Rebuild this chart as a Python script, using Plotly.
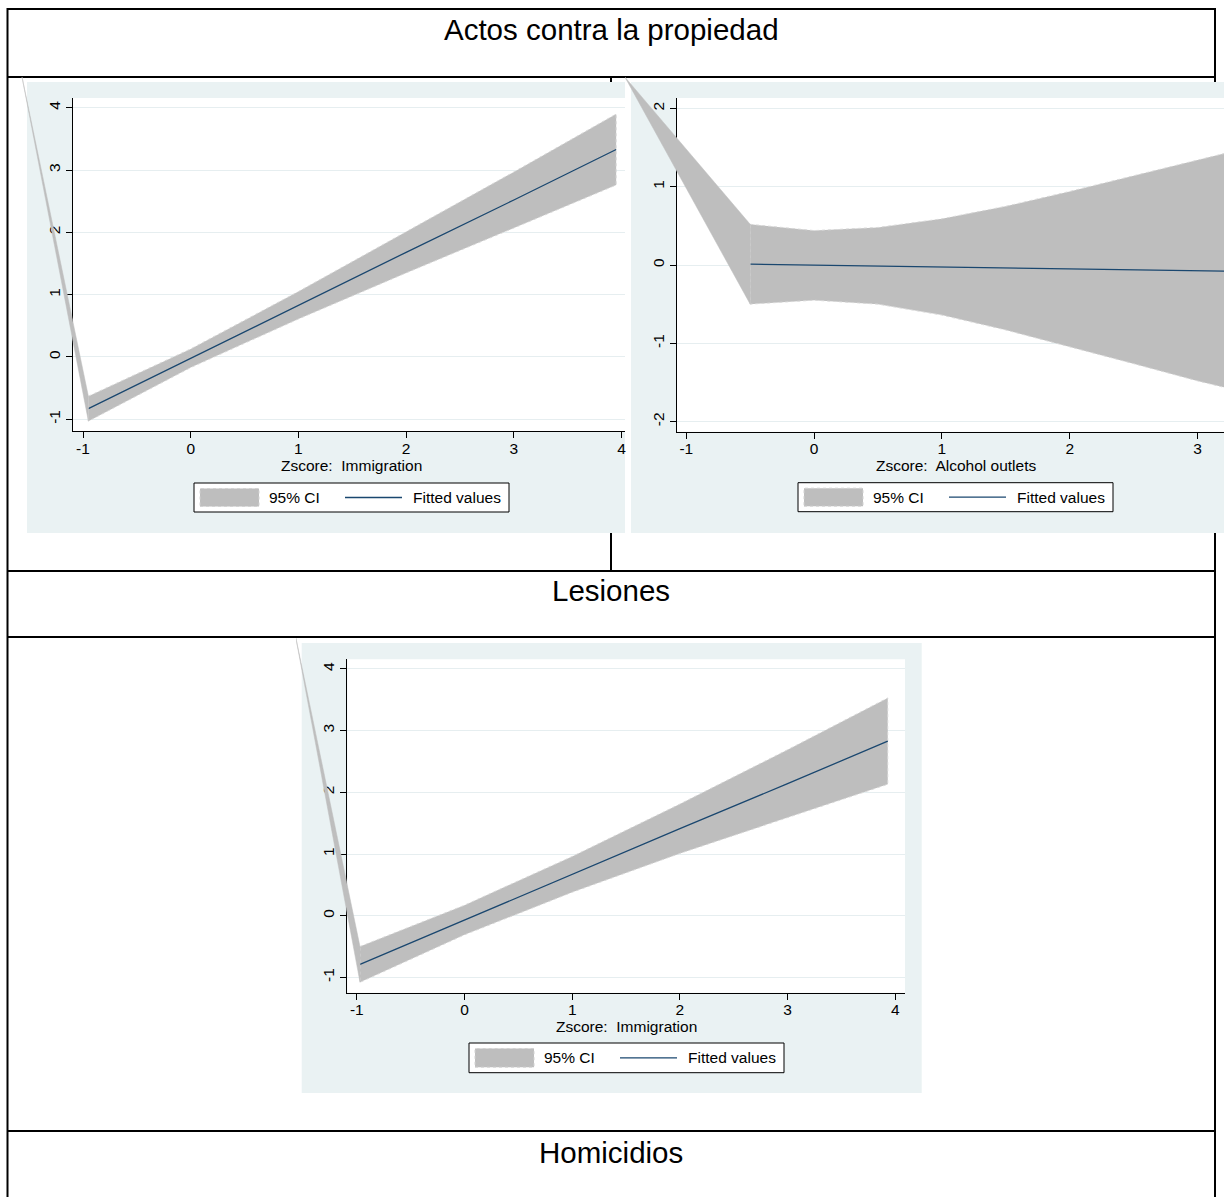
import plotly.graph_objects as go

W, H = 1224, 1197
FONT = "Liberation Sans, Arial, sans-serif"
BG = "#EAF2F3"
GRID = "#E6EEF0"
BAND = "#BEBEBE"
BAND_EDGE = "#D8D8D8"
FIT = "#1A476F"

# ---------------- data ----------------
# Actos contra la propiedad ~ Zscore: Immigration
prop_imm_x = [-0.95, 0.0, 1.0, 2.0, 3.0, 3.95]
prop_imm_fit = [-0.83, -0.02, 0.83, 1.68, 2.52, 3.33]
prop_imm_hi = [-0.63, 0.13, 1.05, 2.01, 2.97, 3.90]
prop_imm_lo = [-1.03, -0.17, 0.61, 1.35, 2.07, 2.76]
prop_imm_anchor = [-1.566, 4.494]   # stray first vertex of the CI polygon

# Actos contra la propiedad ~ Zscore: Alcohol outlets
prop_alc_x = [-0.5, 0.0, 0.5, 1.0, 1.5, 2.0, 2.5, 3.0, 3.25]
prop_alc_fit = [0.01, -0.002, -0.014, -0.025, -0.037, -0.049, -0.061, -0.072, -0.078]
prop_alc_hi = [0.52, 0.44, 0.48, 0.59, 0.75, 0.94, 1.14, 1.34, 1.44]
prop_alc_lo = [-0.50, -0.45, -0.50, -0.64, -0.83, -1.04, -1.26, -1.48, -1.58]
prop_alc_anchor = [-1.48, 2.40]

# Lesiones ~ Zscore: Immigration
les_imm_x = [-0.97, 0.0, 1.0, 2.0, 3.0, 3.93]
les_imm_fit = [-0.79, -0.07, 0.67, 1.41, 2.14, 2.83]
les_imm_hi = [-0.50, 0.17, 0.96, 1.81, 2.69, 3.53]
les_imm_lo = [-1.08, -0.31, 0.38, 1.01, 1.59, 2.13]
les_imm_anchor = [-1.565, 4.50]

imm_xticks = [-1, 0, 1, 2, 3, 4]
alc_xticks = [-1, 0, 1, 2, 3]
imm_yticks = [-1, 0, 1, 2, 3, 4]
alc_yticks = [-2, -1, 0, 1, 2]

section_titles = ["Actos contra la propiedad", "Lesiones", "Homicidios"]
legend_labels = ["95% CI", "Fitted values"]

# ---------------- layout geometry (pixels) ----------------
panels = [
    dict(x=prop_imm_x, fit=prop_imm_fit, hi=prop_imm_hi, lo=prop_imm_lo, anchor=prop_imm_anchor,
         plot=(72.7, 98, 625, 431), xr=(-1.0956, 4.032), yr=(-1.188, 4.157),
         image=(9, 77, 625, 533), bg=(27, 82, 625, 533),
         xticks=imm_xticks, yticks=imm_yticks, title="Zscore:\u00a0 Immigration",
         title_xy=(351.5, 465.5), legend=(194, 483, 509, 512)),
    dict(x=prop_alc_x, fit=prop_alc_fit, hi=prop_alc_hi, lo=prop_alc_lo, anchor=prop_alc_anchor,
         plot=(676.7, 98, 1224, 431.7), xr=(-1.075, 3.207), yr=(-2.129, 2.133),
         image=(625, 77, 1224, 533), bg=(631, 82, 1224, 533),
         xticks=alc_xticks, yticks=alc_yticks, title="Zscore:\u00a0 Alcohol outlets",
         title_xy=(955.5, 465.5), legend=(798, 482.7, 1113, 511.7)),
    dict(x=les_imm_x, fit=les_imm_fit, hi=les_imm_hi, lo=les_imm_lo, anchor=les_imm_anchor,
         plot=(347.3, 659.3, 905, 992.7), xr=(-1.088, 4.09), yr=(-1.248, 4.156),
         image=(296, 637, 922, 1093), bg=(301.7, 643, 921.7, 1093),
         xticks=imm_xticks, yticks=imm_yticks, title="Zscore:\u00a0 Immigration",
         title_xy=(626, 1026), legend=(469, 1043, 784, 1072.7)),
]


def fx(p):
    return p / W


def fy(p):
    return 1 - p / H


fig = go.Figure()
shapes = []
annotations = []
layout_axes = {}


def rect(x0, y0, x1, y1, fill, line_color=None, line_width=0, layer="below", dash=None):
    return dict(type="rect", xref="paper", yref="paper",
                x0=fx(x0), x1=fx(x1), y0=fy(y1), y1=fy(y0),
                fillcolor=fill, layer=layer,
                line=dict(color=line_color or fill, width=line_width, dash=dash))


def hline(y, x0, x1, width=2):
    return dict(type="line", xref="paper", yref="paper", x0=fx(x0), x1=fx(x1),
                y0=fy(y), y1=fy(y), line=dict(color="black", width=width), layer="below")


def vline(x, y0, y1, width=2):
    return dict(type="line", xref="paper", yref="paper", x0=fx(x), x1=fx(x),
                y0=fy(y0), y1=fy(y1), line=dict(color="black", width=width), layer="below")


# table grid
for y in (9, 77, 571, 637, 1131):
    shapes.append(hline(y, 7, 1215))
shapes.append(vline(7.5, 8, H))
shapes.append(vline(1215, 8, H))
shapes.append(vline(611, 77, 571))

# section headings
for text, yc in zip(section_titles, (29, 591, 1152)):
    annotations.append(dict(text=text, x=fx(611), y=fy(yc), xref="paper", yref="paper",
                            xanchor="center", yanchor="middle", showarrow=False,
                            font=dict(family=FONT, size=29.5, color="black")))

tick_font = dict(family=FONT, size=15.5, color="black")

for i, p in enumerate(panels):
    n = i + 1          # visible axes: CI band and fitted line
    a = i + 4          # full-image axes: the part of the CI polygon outside the plot region
    l, t, r, b = p["plot"]
    x0, x1 = p["xr"]
    y0, y1 = p["yr"]

    # graph region and plot region backgrounds
    shapes.append(rect(*p["bg"], BG))
    shapes.append(rect(l, t, r, b, "white"))

    sfx = "" if n == 1 else str(n)
    layout_axes["xaxis" + sfx] = dict(
        domain=[fx(l), fx(r)], range=[x0, x1], anchor="y" + sfx,
        tickvals=p["xticks"], ticktext=[str(v) for v in p["xticks"]],
        ticks="outside", ticklen=6, tickwidth=1, tickcolor="black", ticklabelstandoff=-3,
        showline=True, linecolor="black", linewidth=1, showgrid=False, zeroline=False,
        tickfont=tick_font, fixedrange=True)
    layout_axes["yaxis" + sfx] = dict(
        domain=[fy(b), fy(t)], range=[y0, y1], anchor="x" + sfx,
        tickvals=p["yticks"], ticktext=[str(v) for v in p["yticks"]],
        ticks="outside", ticklen=6, tickwidth=1, tickcolor="black",
        showline=True, linecolor="black", linewidth=1, showgrid=True, gridcolor=GRID,
        gridwidth=1, zeroline=False, tickangle=-90,
        tickfont=tick_font, fixedrange=True)

    # full-image axes sharing the same data scale as the visible ones
    il, it, ir, ib = p["image"]
    sx = (r - l) / (x1 - x0)
    sy = (b - t) / (y1 - y0)
    layout_axes["xaxis%d" % a] = dict(
        domain=[fx(il), fx(ir)], range=[x0 + (il - l) / sx, x0 + (ir - l) / sx],
        anchor="y%d" % a, visible=False, fixedrange=True)
    layout_axes["yaxis%d" % a] = dict(
        domain=[fy(ib), fy(it)], range=[y0 - (ib - b) / sy, y1 + (t - it) / sy],
        anchor="x%d" % a, visible=False, fixedrange=True)

    xs, hi, lo = p["x"], p["hi"], p["lo"]
    # 95% CI band (with the light stippled outline of the original rarea)
    fig.add_trace(go.Scatter(x=xs + xs[::-1] + xs[:1], y=hi + lo[::-1] + hi[:1],
                             fill="toself", fillcolor=BAND, mode="lines",
                             line=dict(color=BAND_EDGE, width=1, dash="dot"),
                             xaxis="x" + sfx, yaxis="y" + sfx, showlegend=False,
                             name=legend_labels[0], hoverinfo="skip"))
    # fitted values
    fig.add_trace(go.Scatter(x=xs, y=p["fit"], mode="lines",
                             line=dict(color=FIT, width=1.3),
                             xaxis="x" + sfx, yaxis="y" + sfx, showlegend=False,
                             name=legend_labels[1]))
    # polygon segment running from the band's first vertex to its stray anchor point
    ax_, ay_ = p["anchor"]
    fig.add_trace(go.Scatter(x=[ax_, xs[0], xs[0], ax_], y=[ay_, hi[0], lo[0], ay_],
                             fill="toself", fillcolor=BAND, mode="lines",
                             line=dict(color=BAND, width=0.5),
                             xaxis="x%d" % a, yaxis="y%d" % a, showlegend=False,
                             hoverinfo="skip"))

    # axis title
    tx, ty = p["title_xy"]
    annotations.append(dict(text=p["title"], x=fx(tx), y=fy(ty), xref="paper", yref="paper",
                            xanchor="center", yanchor="middle", showarrow=False,
                            font=dict(family=FONT, size=15.5, color="black")))

    # legend box
    L, T, R, B = p["legend"]
    mid = (T + B) / 2
    shapes.append(rect(L, T, R, B, "white", "black", 1, layer="above"))
    shapes.append(rect(L + 6, T + 5.5, L + 65, B - 5.5, BAND, "#D2D2D2", 1, layer="above", dash="dot"))
    shapes.append(dict(type="line", xref="paper", yref="paper", x0=fx(L + 151), x1=fx(L + 208),
                       y0=fy(mid), y1=fy(mid), line=dict(color=FIT, width=1.3), layer="above"))
    annotations.append(dict(text=legend_labels[0], x=fx(L + 73), y=fy(mid), xref="paper",
                            yref="paper", xanchor="left", yanchor="middle", showarrow=False,
                            font=dict(family=FONT, size=15.5, color="black")))
    annotations.append(dict(text=legend_labels[1], x=fx(L + 217), y=fy(mid), xref="paper",
                            yref="paper", xanchor="left", yanchor="middle", showarrow=False,
                            font=dict(family=FONT, size=15.5, color="black")))

fig.update_layout(
    width=W, height=H, margin=dict(l=0, r=0, t=0, b=0),
    paper_bgcolor="white", plot_bgcolor="rgba(0,0,0,0)",
    showlegend=False, shapes=shapes, annotations=annotations,
    font=dict(family=FONT, color="black"),
    **layout_axes,
)

fig.write_html("out.html", config={"displayModeBar": False})
